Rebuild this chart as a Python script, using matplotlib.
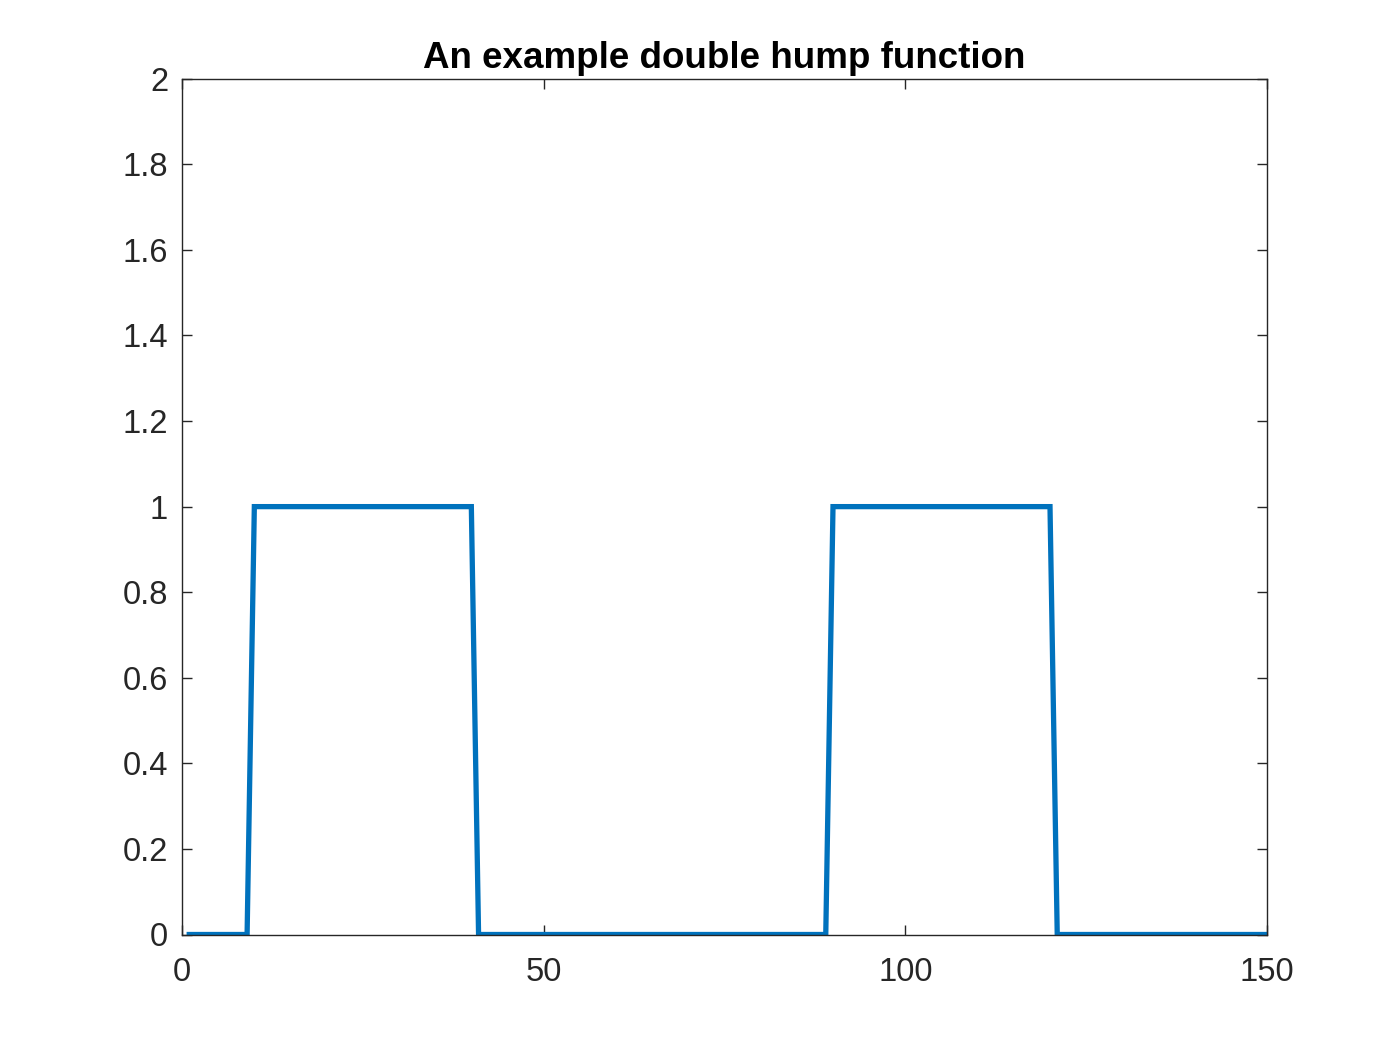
import matplotlib.pyplot as plt

# corner points of the double hump (x = 1..150)
x = [1, 9, 10, 40, 41, 89, 90, 120, 121, 150]
y = [0, 0, 1, 1, 0, 0, 1, 1, 0, 0]

xticks = [0, 50, 100, 150]
yticks = [0, 0.2, 0.4, 0.6, 0.8, 1, 1.2, 1.4, 1.6, 1.8, 2]
yticklabels = ['0', '0.2', '0.4', '0.6', '0.8', '1', '1.2', '1.4', '1.6', '1.8', '2']

plt.rcParams['font.family'] = ['Liberation Sans', 'DejaVu Sans']

fig = plt.figure(figsize=(14, 10.5), dpi=100)
ax = fig.add_axes([0.13, 0.11, 0.775, 0.815])

ax.plot(x, y, color='#0072BD', linewidth=3.8, solid_joinstyle='miter')

ax.set_xlim(0, 150)
ax.set_ylim(0, 2)
ax.set_xticks(xticks)
ax.set_yticks(yticks)
ax.set_yticklabels(yticklabels)

ax.tick_params(direction='in', length=7, width=1, top=True, right=True,
               labelsize=23.5, colors='#262626')
ax.tick_params(axis='x', pad=16)
ax.tick_params(axis='y', pad=10)
for s in ax.spines.values():
    s.set_color('#262626')
    s.set_linewidth(1)

ax.set_title('An example double hump function', fontsize=26.5, fontweight='bold', pad=8)

fig.savefig('out.png', dpi=100)
